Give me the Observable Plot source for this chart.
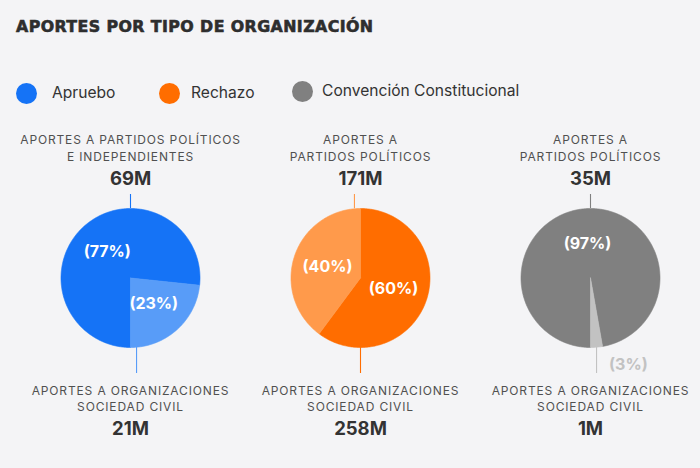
<!DOCTYPE html>
<html lang="es">
<head>
<meta charset="utf-8">
<script src="https://cdn.jsdelivr.net/npm/d3@7"></script>
<script src="https://cdn.jsdelivr.net/npm/@observablehq/plot@0.6"></script>
<style>
  html, body { margin: 0; padding: 0; background: #f4f4f6; overflow: hidden; }
  #chart { position: relative; width: 700px; height: 468px; font-family: Inter, "Noto Sans", sans-serif; }
  #title {
    position: absolute; left: 16px; top: 19px; white-space: nowrap;
    font: bold 15.8px/16px "DejaVu Sans", sans-serif; color: #2e2e2e;
    letter-spacing: 0.42px;
    -webkit-text-stroke: 0.6px #2e2e2e;
  }
  .swatch { position: absolute; width: 21px; height: 21px; border-radius: 50%; }
  .legend-text { position: absolute; white-space: nowrap; font-size: 15.6px; line-height: 15.5px; color: #333; }
  #pies { position: absolute; left: 0; top: 118px; }
  #pies g[aria-description="rotulo"] text { letter-spacing: 0.85px; }
</style>
</head>
<body>
<div id="chart">
  <div id="title">APORTES POR TIPO DE ORGANIZACIÓN</div>
  <div id="legend"></div>
  <div id="pies"></div>
</div>
<script>
// Grupos (uno por torta) y montos en millones de pesos
const groups = ["Apruebo", "Rechazo", "Convención Constitucional"];
const partidosLabels = [
  "APORTES A PARTIDOS POLÍTICOS\nE INDEPENDIENTES",
  "APORTES A\nPARTIDOS POLÍTICOS",
  "APORTES A\nPARTIDOS POLÍTICOS"
];
const partidosValues = [69, 171, 35];
const sociedadLabels = [
  "APORTES A ORGANIZACIONES\nSOCIEDAD CIVIL",
  "APORTES A ORGANIZACIONES\nSOCIEDAD CIVIL",
  "APORTES A ORGANIZACIONES\nSOCIEDAD CIVIL"
];
const sociedadValues = [21, 258, 1];

// Colores: tono fuerte para la porción mayor, tono claro para la menor
const darkColors = ["#1573f6", "#ff6d00", "#808080"];
const lightColors = ["#589cf8", "#ff9a4b", "#c2c2c2"];

// Ángulo inicial de cada torta (grados, sentido horario desde las 12)
const startAngles = [180, 0, 180];

// Leyenda (posiciones en px)
const legendLeft = [16, 159, 292];
const legendTextLeft = [52, 191, 322];
const legendCenterY = [93.5, 93.5, 91.5];

const legend = document.getElementById("legend");
groups.forEach((g, i) => {
  const sw = document.createElement("div");
  sw.className = "swatch";
  sw.style.left = legendLeft[i] + "px";
  sw.style.top = (legendCenterY[i] - 10.5) + "px";
  sw.style.background = darkColors[i];
  legend.appendChild(sw);
  const tx = document.createElement("div");
  tx.className = "legend-text";
  tx.textContent = g;
  tx.style.left = legendTextLeft[i] + "px";
  tx.style.top = (legendCenterY[i] + 5.2 - 13.4) + "px";
  legend.appendChild(tx);
});

// Geometría de las tortas
const R = 69.5;      // radio en px (1 unidad de datos)
const step = 230;    // ancho de cada faceta
const H = 350;       // alto del svg
const cy = 159.5;    // centro vertical de las tortas dentro del svg
const rad = (a) => a * Math.PI / 180;

const polygons = [];
const pctLabels = [];
const leaders = [];
const topTexts = [];
const bottomTexts = [];

// Punto del borde, dentro de la porción, más cercano al ángulo pedido
function anchorAngle(p, target) {
  const inset = Math.min(5, (p.a1 - p.a0) / 2);
  const lo = p.a0 + inset, hi = p.a1 - inset;
  let best = null, bestD = Infinity;
  for (const t of [target - 360, target, target + 360, target + 720]) {
    const c = Math.max(lo, Math.min(hi, t));
    const d = Math.abs(c - t);
    if (d < bestD) { bestD = d; best = c; }
  }
  return best;
}

groups.forEach((g, i) => {
  const parts = [
    {cat: "partidos", value: partidosValues[i]},
    {cat: "sociedad", value: sociedadValues[i]}
  ];
  const total = d3.sum(parts, d => d.value);
  const ranked = parts.slice().sort((a, b) => b.value - a.value);
  let a = startAngles[i];
  ranked.forEach((p, j) => {
    p.color = j === 0 ? darkColors[i] : lightColors[i];
    p.share = p.value / total;
    p.a0 = a;
    p.a1 = a + p.share * 360;
    a = p.a1;
  });

  for (const p of ranked) {
    const id = g + "-" + p.cat;
    polygons.push({fx: g, id, color: p.color, x: 0, y: 0});
    const n = Math.max(2, Math.ceil(p.a1 - p.a0));
    for (let s = 0; s <= n; ++s) {
      const t = rad(p.a0 + (p.a1 - p.a0) * s / n);
      polygons.push({fx: g, id, color: p.color, x: Math.sin(t), y: Math.cos(t)});
    }
    polygons.push({fx: g, id, color: p.color, x: 0, y: 0});

    const mid = rad((p.a0 + p.a1) / 2);
    const pct = Math.round(p.share * 100);
    const inside = pct >= 5;
    const r = inside ? 0.5 : 1.25;
    pctLabels.push({
      fx: g, x: r * Math.sin(mid), y: r * Math.cos(mid),
      text: `(${pct}%)`, fill: inside ? "#ffffff" : p.color, inside
    });
  }

  const byCat = Object.fromEntries(ranked.map(p => [p.cat, p]));
  const top = byCat.partidos, bottom = byCat.sociedad;
  const at = rad(anchorAngle(top, 0));
  leaders.push({fx: g, x: Math.sin(at), y1: Math.cos(at), y2: 1 + 14 / R, color: top.color});
  const ab = rad(anchorAngle(bottom, 180));
  leaders.push({fx: g, x: Math.sin(ab), y1: Math.cos(ab), y2: -1 - 26 / R, color: bottom.color});

  topTexts.push({fx: g, label: partidosLabels[i], value: `${partidosValues[i]}M`});
  bottomTexts.push({fx: g, label: sociedadLabels[i], value: `${sociedadValues[i]}M`});
});

const labelColor = "#505050";
const valueColor = "#333333";

const plot = Plot.plot({
  width: 700,
  height: H,
  marginLeft: 15,
  marginRight: -5,
  marginTop: 0,
  marginBottom: 0,
  style: {background: "transparent", fontFamily: "Inter, 'Noto Sans', sans-serif", overflow: "visible"},
  fx: {domain: groups, padding: 0, axis: null, label: null},
  x: {domain: [-step / 2 / R, step / 2 / R], axis: null},
  y: {domain: [-(H - cy) / R, cy / R], axis: null},
  color: {type: "identity"},
  marks: [
    // porciones
    Plot.line(polygons, {
      fx: "fx", x: "x", y: "y", z: "id",
      fill: "color", stroke: "color", strokeWidth: 0.6, curve: "linear"
    }),
    // líneas guía
    Plot.ruleX(leaders, {fx: "fx", x: "x", y1: "y1", y2: "y2", stroke: "color", strokeWidth: 1.1}),
    // porcentajes
    Plot.text(pctLabels.filter(d => d.inside), {
      fx: "fx", x: "x", y: "y", text: "text", fill: "fill",
      fontSize: 16, fontWeight: 700, textAnchor: "middle", lineAnchor: "middle"
    }),
    Plot.text(pctLabels.filter(d => !d.inside), {
      fx: "fx", x: "x", y: "y", text: "text", fill: "fill",
      fontSize: 16, fontWeight: 700, textAnchor: "start", lineAnchor: "middle", dx: 11
    }),
    // rótulos superiores
    Plot.text(topTexts, {
      fx: "fx", x: () => 0, y: () => 1, text: "label", dy: -48,
      fill: labelColor, fontSize: 12, fontWeight: 400, lineAnchor: "bottom",
      lineHeight: 17 / 12, ariaDescription: "rotulo"
    }),
    Plot.text(topTexts, {
      fx: "fx", x: () => 0, y: () => 1, text: "value", dy: -24,
      fill: valueColor, fontSize: 18.5, fontWeight: 700, lineAnchor: "bottom"
    }),
    // rótulos inferiores
    Plot.text(bottomTexts, {
      fx: "fx", x: () => 0, y: () => -1, text: "label", dy: 63.5,
      fill: labelColor, fontSize: 12, fontWeight: 400, lineAnchor: "bottom",
      lineHeight: 16.5 / 12, ariaDescription: "rotulo"
    }),
    Plot.text(bottomTexts, {
      fx: "fx", x: () => 0, y: () => -1, text: "value", dy: 87.5,
      fill: valueColor, fontSize: 18.5, fontWeight: 700, lineAnchor: "bottom"
    })
  ]
});

document.getElementById("pies").appendChild(plot);
</script>
</body>
</html>
